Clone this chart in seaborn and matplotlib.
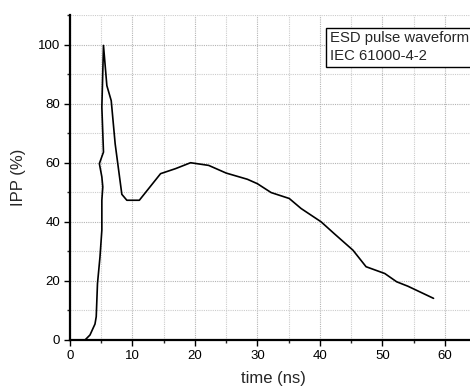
import numpy as np
import pandas as pd
import matplotlib
matplotlib.use("Agg")
import matplotlib.pyplot as plt
import seaborn as sns
from matplotlib.ticker import MultipleLocator

time_ns = [0.0, 2.4, 3.2, 4.0, 4.2, 4.4, 4.8, 5.1, 5.1, 5.25, 5.1, 4.7, 5.36, 5.1, 5.36,
           5.9, 6.6, 7.23, 8.3, 9.1, 11.1, 14.5, 16.9, 19.3, 22.2, 25.0, 28.4, 30.0,
           32.2, 35.1, 37.0, 40.2, 42.3, 45.3, 47.4, 50.4, 52.3, 54.1, 58.2]
ipp_pct = [0.0, 0.0, 1.7, 5.4, 7.9, 19.1, 28.1, 37.2, 47.3, 51.8, 55.2, 59.7, 63.6, 78.8, 99.7,
           86.1, 81.0, 66.4, 49.3, 47.3, 47.3, 56.3, 58.0, 60.0, 59.1, 56.5, 54.4, 52.9,
           49.9, 47.9, 44.5, 40.0, 36.0, 30.4, 24.8, 22.5, 19.7, 18.2, 14.1]
legend_lines = ["ESD pulse waveform", "IEC 61000-4-2"]

df = pd.DataFrame({"t": time_ns, "v": ipp_pct})

sns.set_theme(style="white")
plt.rcParams['font.family'] = ['Liberation Sans', 'DejaVu Sans']

fig = plt.figure(figsize=(4.70, 3.89), dpi=100)
ax = fig.add_axes([70/470, 49/389, 406/470, 325/389])

sns.lineplot(data=df, x="t", y="v", sort=False, estimator=None, color="black",
             linewidth=1.2, ax=ax)

ax.set_xlim(0, 65)
ax.set_ylim(0, 110)
ax.xaxis.set_major_locator(MultipleLocator(10))
ax.xaxis.set_minor_locator(MultipleLocator(5))
ax.yaxis.set_major_locator(MultipleLocator(20))
ax.yaxis.set_minor_locator(MultipleLocator(10))
ax.grid(True, which="major", linestyle=(0, (1, 1)), color="#b4b4b4", linewidth=0.8)
ax.grid(True, which="minor", linestyle=(0, (1, 1)), color="#cccccc", linewidth=0.8)
ax.set_axisbelow(True)

for s in ["top", "right"]:
    ax.spines[s].set_visible(False)
for s in ["left", "bottom"]:
    ax.spines[s].set_linewidth(1.6)
    ax.spines[s].set_color("black")

ax.tick_params(which="major", direction="out", length=4, width=1.0, labelsize=9.5,
               colors="black", left=True, bottom=True, pad=3)
ax.tick_params(which="minor", direction="out", length=2.5, width=1.0, left=True, bottom=True)

ax.set_xlabel("time (ns)", fontsize=12)
ax.set_ylabel("IPP (%)", fontsize=12)
ax.yaxis.set_label_coords(-0.108, 0.5)
ax.xaxis.set_label_coords(0.5, -0.095)

ax.text(0.640, 0.950, "\n".join(legend_lines), transform=ax.transAxes, fontsize=10.7,
        va="top", ha="left", linespacing=1.35,
        bbox=dict(boxstyle="square,pad=0.25", facecolor="white", edgecolor="black", linewidth=1.0))

fig.savefig("out.png", dpi=100)
